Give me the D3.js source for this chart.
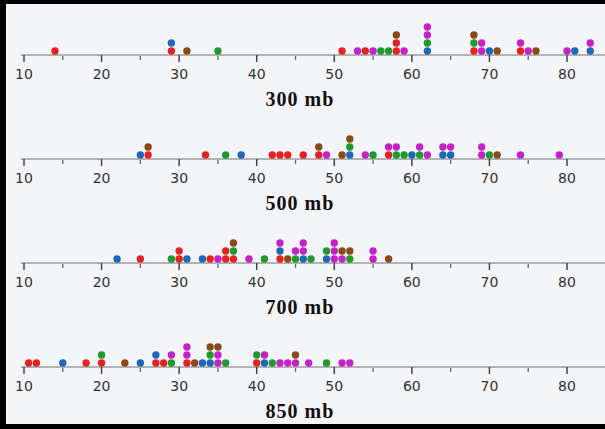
<!DOCTYPE html>
<html>
<head>
<meta charset="utf-8">
<style>
  body { margin: 0; background: #fff; }
  svg { display: block; }
</style>
</head>
<body>
<svg id="chart" width="605" height="429"></svg>
<script src="https://cdn.jsdelivr.net/npm/d3@7"></script>
<script>
// pressure levels (panel titles)
const levels = ["300 mb", "500 mb", "700 mb", "850 mb"];
const tickValues = [10, 20, 30, 40, 50, 60, 70, 80];
const minorTicks = [15, 25, 35, 45, 55, 65, 75, 85];
const groups = ["r", "b", "g", "br", "m"];
const groupColors = ["#e52222", "#1f68b5", "#1f9a2c", "#8a4a17", "#c422c8"];

// [value, group] ; repeated values stack upward in listed order
const dots300 = [
  [14,"r"],[29,"r"],[29,"b"],[31,"br"],[35,"g"],[51,"r"],[53,"m"],[54,"r"],[55,"m"],
  [56,"g"],[57,"g"],[58,"r"],[58,"r"],[58,"br"],[59,"m"],[62,"b"],[62,"g"],[62,"m"],[62,"m"],
  [68,"r"],[68,"g"],[68,"br"],[69,"m"],[69,"m"],[70,"b"],[71,"br"],[74,"r"],[74,"m"],
  [75,"m"],[76,"br"],[80,"m"],[81,"b"],[83,"b"],[83,"m"]
];
const dots500 = [
  [25,"b"],[26,"r"],[26,"br"],[33.4,"r"],[36,"g"],[38,"b"],[42,"r"],[43,"r"],[44,"r"],[46,"r"],
  [48,"r"],[48,"br"],[49,"m"],[51,"br"],[52,"b"],[52,"g"],[52,"br"],[54,"m"],[55,"g"],
  [57,"r"],[57,"m"],[58,"g"],[58,"m"],[59,"g"],[60,"b"],[61,"g"],[61,"m"],[62,"m"],
  [64,"b"],[64,"m"],[65,"b"],[65,"m"],[69,"m"],[69,"m"],[70,"g"],[71,"br"],[74,"m"],[79,"m"]
];
const dots700 = [
  [22,"b"],[25,"r"],[29,"g"],[30,"r"],[30,"r"],[31,"b"],[33,"b"],[34,"r"],[35,"m"],
  [36,"r"],[36,"r"],[37,"r"],[37,"g"],[37,"br"],[39,"m"],[41,"g"],[43,"r"],[43,"b"],[43,"m"],
  [44,"br"],[45,"g"],[45,"m"],[46,"b"],[46,"m"],[46,"m"],[47,"g"],[49,"b"],[49,"g"],
  [50,"m"],[50,"m"],[50,"m"],[51,"m"],[51,"br"],[52,"g"],[52,"br"],[55,"m"],[55,"m"],[57,"br"]
];
const dots850 = [
  [10.6,"r"],[11.6,"r"],[15,"b"],[18,"r"],[20,"r"],[20,"g"],[23,"br"],[25,"b"],[27,"r"],[27,"b"],
  [28,"r"],[29,"g"],[29,"m"],[31,"r"],[31,"m"],[31,"m"],[32,"br"],[33,"b"],[34,"b"],[34,"g"],
  [34,"br"],[35,"m"],[35,"m"],[35,"br"],[36,"g"],[40,"r"],[40,"g"],[41,"b"],[41,"m"],[42,"g"],
  [43,"m"],[44,"m"],[45,"m"],[45,"br"],[46.7,"m"],[49,"g"],[51,"m"],[52,"m"]
];
const panelDots = [dots300, dots500, dots700, dots850];

const W = 605, H = 429;
const svg = d3.select("#chart");
const x = d3.scaleLinear().domain([10, 80]).range([24, 567]);
const color = d3.scaleOrdinal().domain(groups).range(groupColors);
const panelY = d3.scalePoint().domain(levels).range([55, 367]);

svg.append("rect").attr("width", W).attr("height", H).attr("fill", "#f4f5f8");

levels.forEach((lev, i) => {
  const y0 = panelY(lev);
  const g = svg.append("g").attr("transform", `translate(0,${y0})`);

  g.append("line")
      .attr("x1", x(9.6)).attr("x2", W)
      .attr("y1", 0).attr("y2", 0)
      .attr("stroke", "#9d9d9d").attr("stroke-width", 1.5);

  g.selectAll(".major").data(tickValues).enter().append("line")
      .attr("x1", d => x(d)).attr("x2", d => x(d))
      .attr("y1", 0).attr("y2", 7)
      .attr("stroke", "#444").attr("stroke-width", 1.5);

  g.selectAll(".minor").data(minorTicks).enter().append("line")
      .attr("x1", d => x(d)).attr("x2", d => x(d))
      .attr("y1", 1).attr("y2", 5)
      .attr("stroke", "#666").attr("stroke-width", 1.3);

  g.selectAll(".tlab").data(tickValues).enter().append("text")
      .attr("x", d => x(d)).attr("y", 24)
      .attr("text-anchor", "middle")
      .attr("font-family", "DejaVu Sans, sans-serif")
      .attr("font-size", 14)
      .attr("fill", "#333")
      .text(d => d);

  // stack dots with equal values
  const count = {};
  const pts = panelDots[i].map(([v, c]) => {
    const k = count[v] || 0;
    count[v] = k + 1;
    return { v, c, k };
  });
  g.selectAll("circle").data(pts).enter().append("circle")
      .attr("cx", d => x(d.v))
      .attr("cy", d => -4 - d.k * 8)
      .attr("r", 3.7)
      .attr("fill", d => color(d.c));

  g.append("text")
      .attr("x", 300).attr("y", 51)
      .attr("text-anchor", "middle")
      .attr("font-family", "Liberation Serif, Times New Roman, serif")
      .attr("font-weight", "bold")
      .attr("font-size", 20)
      .attr("letter-spacing", 1)
      .attr("fill", "#111")
      .text(lev);
});

// black frame on left, top and bottom
svg.append("rect").attr("x", 0).attr("y", 0).attr("width", 6).attr("height", H).attr("fill", "#000");
svg.append("rect").attr("x", 0).attr("y", 0).attr("width", W).attr("height", 4).attr("fill", "#000");
svg.append("rect").attr("x", 0).attr("y", H - 5).attr("width", W).attr("height", 5).attr("fill", "#000");
</script>
</body>
</html>
